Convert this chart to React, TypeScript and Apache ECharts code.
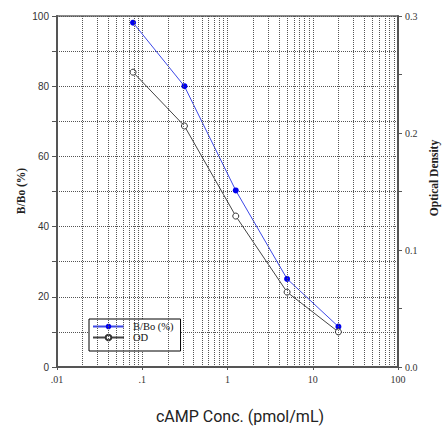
import React, { useEffect, useRef } from "react";
import * as echarts from "echarts";

const concentrations = [0.078, 0.3125, 1.25, 5, 20];
const bboValues = [98.1, 80.0, 50.3, 25.1, 11.5];
const odValues = [0.252, 0.206, 0.129, 0.064, 0.03];
const decades = [0.01, 0.1, 1, 10];
const minorMultiples = [2, 3, 4, 5, 6, 7, 8, 9];
const leftTicks = { min: 0, max: 100, interval: 10 };
const rightTicks = { min: 0, max: 0.3, interval: 0.05 };

export default function App() {
  const ref = useRef<HTMLDivElement>(null);
  useEffect(() => {
    if (!ref.current) return;
    const chart = echarts.init(ref.current, null, { renderer: "svg" });
    const minorLines: any[] = [];
    decades.forEach((d) =>
      minorMultiples.forEach((m) => minorLines.push({ xAxis: +(d * m).toPrecision(3) }))
    );
    const gridColor = "#555";
    const option: any = {
      animation: false,
      backgroundColor: "#fff",
      grid: {
        left: 57,
        top: 16,
        right: 45,
        bottom: 59,
        show: true,
        borderColor: "#666",
        borderWidth: 1.5,
        backgroundColor: "transparent",
      },
      legend: {
        orient: "vertical",
        left: 89,
        top: 319,
        data: ["B/Bo (%)", "OD"],
        itemWidth: 31,
        itemHeight: 7,
        itemGap: 0,
        padding: [2, 7, 8, 3],
        borderColor: "#000",
        borderWidth: 1,
        backgroundColor: "#fff",
        borderRadius: 0,
        textStyle: {
          fontFamily: "Liberation Serif",
          fontSize: 10.5,
          lineHeight: 8,
          color: "#111",
          padding: [0, 0, 0, 4],
        },
      },
      xAxis: {
        type: "log",
        logBase: 10,
        min: 0.01,
        max: 100,
        axisLine: { show: true, lineStyle: { color: "#555", width: 2 } },
        axisTick: { show: true, length: 3, inside: false, lineStyle: { color: "#555" } },
        axisLabel: {
          margin: 7,
          fontFamily: "Liberation Serif",
          fontSize: 10,
          color: "#333",
          formatter: (v: number) => {
            const s = String(+v.toPrecision(3));
            return s.startsWith("0.") ? s.slice(1) : s;
          },
        },
        splitLine: { show: true, lineStyle: { color: gridColor, type: [1, 1], width: 1 } },
      },
      yAxis: [
        {
          type: "value",
          ...leftTicks,
          position: "left",
          axisLine: { show: true, lineStyle: { color: "#555", width: 2 } },
          axisTick: { show: true, length: 5, lineStyle: { color: "#555" } },
          axisLabel: {
            margin: 8,
            fontFamily: "Liberation Sans",
            fontSize: 10,
            color: "#333",
            formatter: (v: number) => (Math.round(v) % 20 === 0 ? String(Math.round(v)) : ""),
          },
          splitLine: { show: true, lineStyle: { color: gridColor, type: [1, 1], width: 1 } },
        },
        {
          type: "value",
          ...rightTicks,
          position: "right",
          axisLine: { show: true, lineStyle: { color: "#555", width: 2 } },
          axisTick: { show: true, length: 4, lineStyle: { color: "#555" } },
          axisLabel: {
            margin: 7,
            fontFamily: "Liberation Serif",
            fontSize: 10,
            color: "#333",
            formatter: (v: number) =>
              Math.abs(v * 10 - Math.round(v * 10)) < 1e-6 ? v.toFixed(1) : "",
          },
          splitLine: { show: false },
        },
      ],
      series: [
        {
          name: "grid-helper",
          type: "line",
          data: [[0.01, 0]],
          showSymbol: false,
          symbol: "none",
          lineStyle: { width: 0 },
          silent: true,
          z: 1,
          markLine: {
            silent: true,
            symbol: ["none", "none"],
            label: { show: false },
            lineStyle: { color: gridColor, type: [1, 1], width: 1 },
            data: minorLines,
            animation: false,
          },
        },
        {
          name: "B/Bo (%)",
          type: "line",
          yAxisIndex: 0,
          data: concentrations.map((c, i) => [c, bboValues[i]]),
          symbol: "circle",
          symbolSize: 6,
          itemStyle: { color: "#0000ee" },
          lineStyle: { color: "#3d48e8", width: 1 },
          z: 3,
        },
        {
          name: "OD",
          type: "line",
          yAxisIndex: 1,
          data: concentrations.map((c, i) => [c, odValues[i]]),
          symbol: "circle",
          symbolSize: 6,
          itemStyle: { color: "#fff", borderColor: "#333", borderWidth: 1 },
          lineStyle: { color: "#444", width: 1 },
          z: 3,
        },
      ],
      graphic: [
        {
          type: "text",
          x: 21,
          y: 191,
          rotation: Math.PI / 2,
          style: {
            text: "B/Bo (%)",
            fontFamily: "Liberation Serif",
            fontWeight: "bold",
            fontSize: 11.5,
            fill: "#222",
            align: "center",
            verticalAlign: "middle",
          },
        },
        {
          type: "text",
          x: 434,
          y: 178,
          rotation: Math.PI / 2,
          style: {
            text: "Optical Density",
            fontFamily: "Liberation Serif",
            fontWeight: "bold",
            fontSize: 11.5,
            fill: "#222",
            align: "center",
            verticalAlign: "middle",
          },
        },
        {
          type: "text",
          x: 240,
          y: 416,
          style: {
            text: "cAMP Conc. (pmol/mL)",
            fontFamily: "Roboto",
            fontSize: 16,
            fill: "#222",
            align: "center",
            verticalAlign: "middle",
          },
        },
      ],
    };
    chart.setOption(option);
    return () => chart.dispose();
  }, []);
  return <div ref={ref} style={{ width: 443, height: 426, position: "absolute", left: 0, top: 0 }} />;
}
